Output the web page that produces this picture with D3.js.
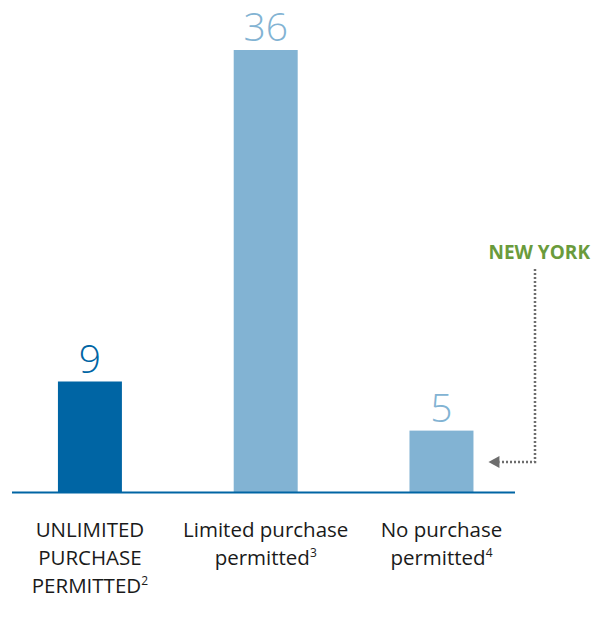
<!DOCTYPE html>
<html>
<head>
<meta charset="utf-8">
<script src="https://cdn.jsdelivr.net/npm/d3@7"></script>
<style>
  html, body { margin: 0; padding: 0; background: #fff; }
  svg { display: block; }
</style>
</head>
<body>
<svg id="chart" width="594" height="637"></svg>
<script>
// Purchase-permission categories and the count of states in each
const categories = ["unlimited", "limited", "none"];
const values = [9, 36, 5];
const labelLines = [
  [["UNLIMITED"], ["PURCHASE"], ["PERMITTED", "2"]],
  [["Limited purchase"], ["permitted", "3"]],
  [["No purchase"], ["permitted", "4"]]
];
const barColors = ["#0065a4", "#82b3d3", "#82b3d3"];
const calloutText = "NEW YORK";

const svg = d3.select("#chart");
const baseY = 492;

const x = d3.scaleBand()
  .domain(categories)
  .range([5.2, 526.2])
  .paddingInner(0.636)
  .paddingOuter(0.3);

const y = d3.scaleLinear()
  .domain([0, 36])
  .range([baseY, 50]);

const font = "'Open Sans', 'Noto Sans', sans-serif";

// bars
svg.selectAll("rect.bar")
  .data(values)
  .join("rect")
  .attr("class", "bar")
  .attr("x", (d, i) => x(categories[i]))
  .attr("width", x.bandwidth())
  .attr("y", d => y(d))
  .attr("height", d => baseY - y(d))
  .attr("fill", (d, i) => barColors[i]);

// value labels
svg.selectAll("text.val")
  .data(values)
  .join("text")
  .attr("class", "val")
  .attr("x", (d, i) => x(categories[i]) + x.bandwidth() / 2)
  .attr("y", d => y(d) - 9)
  .attr("text-anchor", "middle")
  .attr("font-family", font)
  .attr("font-size", 39)
  .attr("font-weight", 300)
  .attr("fill", (d, i) => barColors[i])
  .text(d => d);

// baseline
svg.append("line")
  .attr("x1", 12).attr("x2", 515)
  .attr("y1", baseY + 0.5).attr("y2", baseY + 0.5)
  .attr("stroke", "#0065a4")
  .attr("stroke-width", 2);

// category labels with footnote superscripts
labelLines.forEach((lines, i) => {
  const cx = x(categories[i]) + x.bandwidth() / 2;
  lines.forEach((parts, j) => {
    const t = svg.append("text")
      .attr("x", cx)
      .attr("y", 537 + j * 28)
      .attr("text-anchor", "middle")
      .attr("font-family", font)
      .attr("font-size", 20.5)
      .attr("fill", "#1a1a1a");
    t.append("tspan").text(parts[0]);
    if (parts[1]) {
      t.append("tspan")
        .attr("font-size", 12)
        .attr("dy", -8)
        .text(parts[1]);
    }
  });
});

// New York callout pointing at the last bar
svg.append("text")
  .attr("x", 590)
  .attr("y", 259)
  .attr("text-anchor", "end")
  .attr("font-family", font)
  .attr("font-size", 19)
  .attr("font-weight", 700)
  .attr("fill", "#6a9b3c")
  .text(calloutText);

const lastX = x(categories[2]) + x.bandwidth();
const arrowY = 462;
svg.append("path")
  .attr("d", `M535,269 L535,${arrowY} L${lastX + 26},${arrowY}`)
  .attr("fill", "none")
  .attr("stroke", "#6d6d6d")
  .attr("stroke-width", 2.5)
  .attr("stroke-dasharray", "2,2");
svg.append("path")
  .attr("d", `M${lastX + 15},${arrowY} L${lastX + 26},${arrowY - 6} L${lastX + 26},${arrowY + 6} Z`)
  .attr("fill", "#6d6d6d");
</script>
</body>
</html>
